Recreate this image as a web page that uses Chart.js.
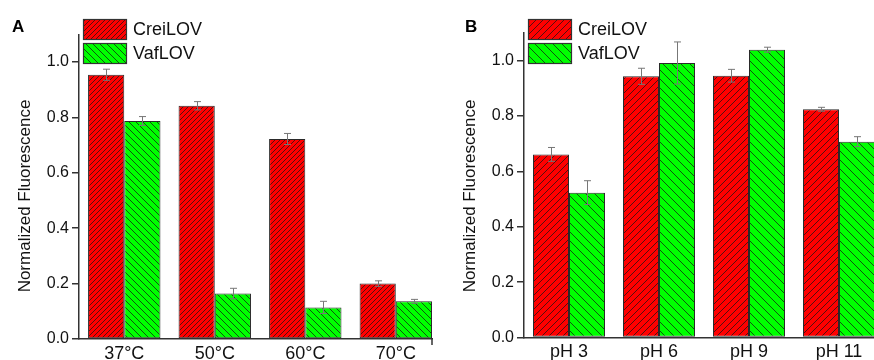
<!DOCTYPE html>
<html><head><meta charset="utf-8">
<script src="https://cdn.jsdelivr.net/npm/chart.js@4"></script>
<style>
html,body{margin:0;padding:0;background:#fff;overflow:hidden;width:874px;height:360px;}
#a{position:absolute;left:0;top:0;width:437px;height:360px;}
#b{position:absolute;left:437px;top:0;width:450px;height:360px;}
canvas{display:block;}
</style></head><body>
<div id="a"><canvas id="ca" width="437" height="360"></canvas></div>
<div id="b"><canvas id="cb" width="450" height="360"></canvas></div>
<script>
// ---------- data ----------
const seriesLabels = ['CreiLOV', 'VafLOV'];
const tempCategories = ['37°C', '50°C', '60°C', '70°C'];
const tempCrei = [0.954, 0.842, 0.722, 0.200];
const tempCreiErr = [0.020, 0.015, 0.020, 0.010];
const tempVaf = [0.787, 0.164, 0.114, 0.136];
const tempVafErr = [0.016, 0.019, 0.022, 0.007];
const phCategories = ['pH 3', 'pH 6', 'pH 9', 'pH 11'];
const phCrei = [0.661, 0.943, 0.945, 0.824];
const phCreiErr = [0.025, 0.029, 0.023, 0.007];
const phVaf = [0.523, 0.991, 1.039, 0.707];
const phVafErr = [0.043, 0.076, 0.009, 0.018];
const yTicks = [0, 0.2, 0.4, 0.6, 0.8, 1.0];
const yTitle = 'Normalized Fluorescence';

// ---------- helpers ----------
function hatch(color, dir, s) {
  const c = document.createElement('canvas');
  c.width = s; c.height = s;
  const g = c.getContext('2d');
  g.fillStyle = color; g.fillRect(0, 0, s, s);
  g.strokeStyle = 'rgba(20,20,20,0.8)'; g.lineWidth = 0.9;
  g.beginPath();
  for (let k = -1; k <= 1; k++) {
    if (dir === '/') { g.moveTo(k * s, s); g.lineTo(k * s + s, 0); }
    else { g.moveTo(k * s, 0); g.lineTo(k * s + s, s); }
  }
  g.stroke();
  return g.createPattern(c, 'repeat');
}
const FONT = "'Liberation Sans', Arial, sans-serif";

const errorBars = {
  id: 'errorBars',
  afterDatasetsDraw(chart) {
    const ctx = chart.ctx, y = chart.scales.y;
    chart.data.datasets.forEach((ds, i) => {
      const meta = chart.getDatasetMeta(i);
      meta.data.forEach((el, j) => {
        const v = ds.data[j].y, e = ds.errors[j];
        const yt = y.getPixelForValue(v + e), yb = y.getPixelForValue(v - e);
        const x = Math.round(el.x) + 0.5;
        ctx.save();
        ctx.strokeStyle = '#777'; ctx.lineWidth = 1;
        ctx.beginPath();
        ctx.moveTo(x, yt); ctx.lineTo(x, yb);
        ctx.moveTo(x - 3.5, yt); ctx.lineTo(x + 3.5, yt);
        ctx.moveTo(x - 3.5, yb); ctx.lineTo(x + 3.5, yb);
        ctx.stroke();
        ctx.restore();
      });
    });
  }
};

const decor = {
  id: 'decor',
  afterDraw(chart) {
    const o = chart.options.plugins.decor;
    const ctx = chart.ctx;
    ctx.save();
    ctx.fillStyle = '#000';
    ctx.font = 'bold 17px ' + FONT;
    ctx.textBaseline = 'alphabetic'; ctx.textAlign = 'left';
    ctx.fillText(o.letter, o.letterX, 32);
    ctx.save();
    ctx.translate(o.titleX, 196);
    ctx.rotate(-Math.PI / 2);
    ctx.font = '17px ' + FONT;
    ctx.fillStyle = '#111';
    ctx.textAlign = 'center'; ctx.textBaseline = 'middle';
    ctx.fillText(yTitle, 0, 0);
    ctx.restore();
    chart.data.datasets.forEach((ds, i) => {
      const by = 19 + i * 24;
      ctx.fillStyle = ds.backgroundColor;
      ctx.fillRect(o.legendX, by, 44, 21);
      ctx.strokeStyle = '#333'; ctx.lineWidth = 1.2;
      ctx.strokeRect(o.legendX + 0.5, by + 0.5, 43, 20);
      ctx.fillStyle = '#111';
      ctx.font = '18px ' + FONT;
      ctx.textAlign = 'left'; ctx.textBaseline = 'middle';
      ctx.fillText(ds.label, o.legendX + 50, by + 11);
    });
    // small end tick at right end of x axis
    if (o.endTick) {
      const ca = chart.chartArea;
      ctx.strokeStyle = '#333'; ctx.lineWidth = 1.5;
      ctx.beginPath();
      ctx.moveTo(ca.right, ca.bottom); ctx.lineTo(ca.right, ca.bottom + 6);
      ctx.stroke();
    }
    ctx.restore();
  }
};

function makeChart(id, cats, a, aErr, b, bErr, opt) {
  const toPts = arr => arr.map((v, i) => ({ x: i, y: v }));
  return new Chart(document.getElementById(id), {
    type: 'bar',
    data: {
      datasets: [
        { label: seriesLabels[0], data: toPts(a), errors: aErr,
          backgroundColor: hatch('#FF0000', '/', opt.sRed),
          borderColor: '#2a2a2a', borderWidth: 1, borderSkipped: false,
          categoryPercentage: 0.8, barPercentage: 1.0 },
        { label: seriesLabels[1], data: toPts(b), errors: bErr,
          backgroundColor: hatch('#00FF00', '\\', opt.sGreen),
          borderColor: '#2a2a2a', borderWidth: 1, borderSkipped: false,
          categoryPercentage: 0.8, barPercentage: 1.0 }
      ]
    },
    options: {
      responsive: false, animation: false,
      layout: { padding: { left: 0, top: opt.top, right: opt.right, bottom: 0 } },
      plugins: {
        legend: { display: false }, tooltip: { enabled: false },
        decor: { letter: opt.letter, letterX: opt.letterX, titleX: opt.titleX, legendX: opt.legendX, endTick: opt.endTick }
      },
      scales: {
        x: {
          type: 'linear', min: -0.5, max: 3.4, offset: false,
          afterBuildTicks: s => { s.ticks = cats.map((_, i) => ({ value: i })); },
          afterFit: s => { s.height = 360 - opt.bottom; },
          grid: { display: false, drawTicks: false, offset: false },
          border: { display: true, color: '#333', width: 1.5 },
          ticks: { padding: 4, color: '#111', font: { family: FONT, size: 18 },
                   autoSkip: false, maxRotation: 0, callback: v => cats[v] }
        },
        y: {
          min: 0, max: 1.1,
          afterBuildTicks: s => { s.ticks = yTicks.map(v => ({ value: v })); },
          afterFit: s => { s.width = opt.axisX; },
          grid: { display: true, drawOnChartArea: false, drawTicks: true, tickLength: 7, color: '#333', lineWidth: 1.5 },
          border: { display: true, color: '#333', width: 1.5 },
          ticks: { padding: 3, color: '#111', font: { family: FONT, size: 16 },
                   callback: v => Number(v).toFixed(1) }
        }
      }
    },
    plugins: [errorBars, decor]
  });
}

makeChart('ca', tempCategories, tempCrei, tempCreiErr, tempVaf, tempVafErr,
  { sRed: 5, sGreen: 7, top: 34.3, right: 5, bottom: 339, axisX: 79,
    letter: 'A', letterX: 12, titleX: 25, legendX: 83, endTick: true });
makeChart('cb', phCategories, phCrei, phCreiErr, phVaf, phVafErr,
  { sRed: 7, sGreen: 9, top: 32.8, right: 12, bottom: 337.5, axisX: 87,
    letter: 'B', letterX: 28, titleX: 33, legendX: 91, endTick: false });
</script>
</body></html>
